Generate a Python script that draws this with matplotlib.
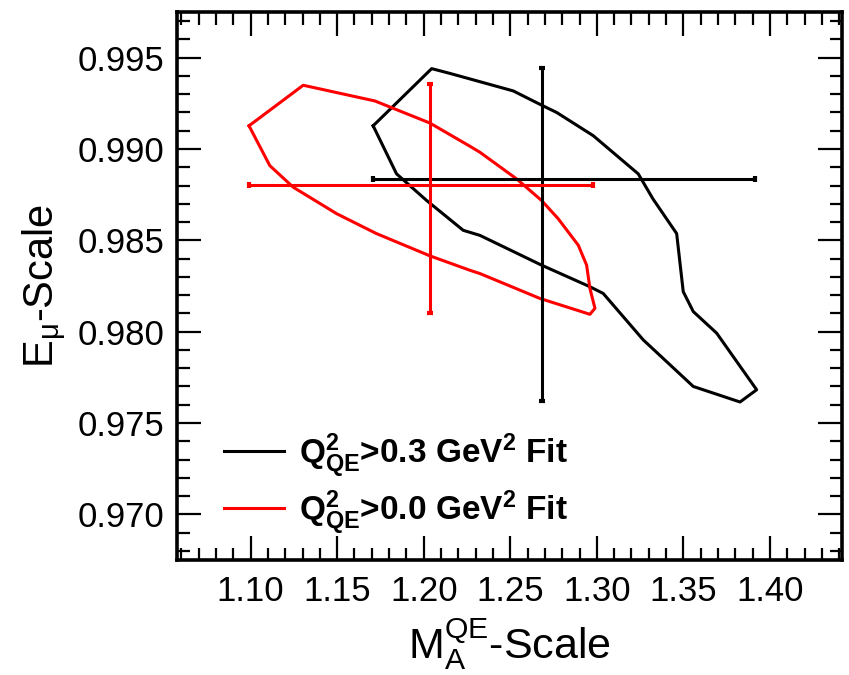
import matplotlib
matplotlib.use("Agg")
import matplotlib.pyplot as plt
from matplotlib.ticker import MultipleLocator, FormatStrFormatter

plt.rcParams['font.family'] = ['Liberation Sans', 'DejaVu Sans']
plt.rcParams['mathtext.fontset'] = 'custom'
plt.rcParams['mathtext.rm'] = 'Liberation Sans'
plt.rcParams['mathtext.it'] = 'Liberation Sans:italic'
plt.rcParams['mathtext.bf'] = 'Liberation Sans:bold'
plt.rcParams['mathtext.sf'] = 'Liberation Sans'

# Contour 1: Q2_QE > 0.3 GeV^2 fit (black)
black_x = [1.1708, 1.2046, 1.2151, 1.2517, 1.2681, 1.2768, 1.2979, 1.3239, 1.3324,
           1.3461, 1.3499, 1.3557, 1.3692, 1.3923, 1.3827, 1.3557, 1.3268, 1.3037,
           1.2960, 1.2681, 1.2325, 1.2228, 1.2017, 1.1843, 1.1708]
black_y = [0.99127, 0.99440, 0.99414, 0.99318, 0.99240, 0.99200, 0.99073, 0.98864, 0.98727,
           0.98537, 0.98219, 0.98110, 0.97992, 0.97682, 0.97615, 0.97700, 0.97955, 0.98209,
           0.98246, 0.98364, 0.98527, 0.98555, 0.98718, 0.98864, 0.99127]

# Contour 2: Q2_QE > 0.0 GeV^2 fit (red)
red_x = [1.0991, 1.1304, 1.1718, 1.2036, 1.2267, 1.2325, 1.2537, 1.2681, 1.2777, 1.2893,
         1.2941, 1.2960, 1.2989, 1.2960, 1.2671, 1.2325, 1.2267, 1.2036, 1.1727, 1.1497,
         1.1246, 1.1111, 1.0991]
red_y = [0.99127, 0.99349, 0.99263, 0.99142, 0.99015, 0.98982, 0.98836, 0.98718, 0.98618, 0.98473,
         0.98364, 0.98237, 0.98128, 0.98095, 0.98182, 0.98318, 0.98336, 0.98415, 0.98537, 0.98646,
         0.98791, 0.98909, 0.99127]

# Best-fit points with asymmetric errors
black_center = (1.2681, 0.98836)
black_xerr = (0.0976, 0.1232)   # (minus, plus)
black_yerr = (0.01217, 0.00606)
red_center = (1.2036, 0.98804)
red_xerr = (0.1046, 0.0943)
red_yerr = (0.00704, 0.00550)

labels = [r'$\mathbf{Q^{2}_{QE}}$>0.3 GeV$^{\mathbf{2}}$ Fit',
          r'$\mathbf{Q^{2}_{QE}}$>0.0 GeV$^{\mathbf{2}}$ Fit']

fig = plt.figure(figsize=(8.49, 6.75), dpi=100)
ax = fig.add_axes([177/849, 1-560/675, (842-177)/849, (560-12)/675])

l1, = ax.plot(black_x, black_y, color='black', lw=2.2)
l2, = ax.plot(red_x, red_y, color='red', lw=2.2)

ax.errorbar([black_center[0]], [black_center[1]],
            xerr=[[black_xerr[0]], [black_xerr[1]]],
            yerr=[[black_yerr[0]], [black_yerr[1]]],
            fmt='none', ecolor='black', elinewidth=2.2, capsize=2, capthick=3)
ax.errorbar([red_center[0]], [red_center[1]],
            xerr=[[red_xerr[0]], [red_xerr[1]]],
            yerr=[[red_yerr[0]], [red_yerr[1]]],
            fmt='none', ecolor='red', elinewidth=2.2, capsize=2, capthick=3)

ax.set_xlim(1.0575, 1.4416)
ax.set_ylim(0.9675, 0.9975)

ax.xaxis.set_major_locator(MultipleLocator(0.05))
ax.xaxis.set_minor_locator(MultipleLocator(0.01))
ax.yaxis.set_major_locator(MultipleLocator(0.005))
ax.yaxis.set_minor_locator(MultipleLocator(0.001))
ax.xaxis.set_major_formatter(FormatStrFormatter('%.2f'))
ax.yaxis.set_major_formatter(FormatStrFormatter('%.3f'))

ax.tick_params(which='both', direction='in', top=True, right=True, width=1.6, color='black')
ax.tick_params(which='major', length=17)
ax.tick_params(which='minor', length=9)
ax.tick_params(axis='x', which='major', labelsize=25, pad=11)
ax.tick_params(axis='y', which='major', labelsize=25, pad=9)
for s in ax.spines.values():
    s.set_linewidth(2.6)

ax.set_xlabel(r'M$_{\mathrm{A}}^{\mathrm{QE}}$-Scale', fontsize=31, labelpad=6)
ax.set_ylabel(r'E$_{\mathrm{\mu}}$-Scale', fontsize=30, labelpad=6)

leg = ax.legend([l1, l2], labels, loc='upper left', bbox_to_anchor=(0.045, 0.265),
                frameon=False, prop={'weight': 'bold', 'size': 24},
                handlelength=1.8, handletextpad=0.45, labelspacing=0.24, borderpad=0)

fig.savefig('out.png', dpi=100)
